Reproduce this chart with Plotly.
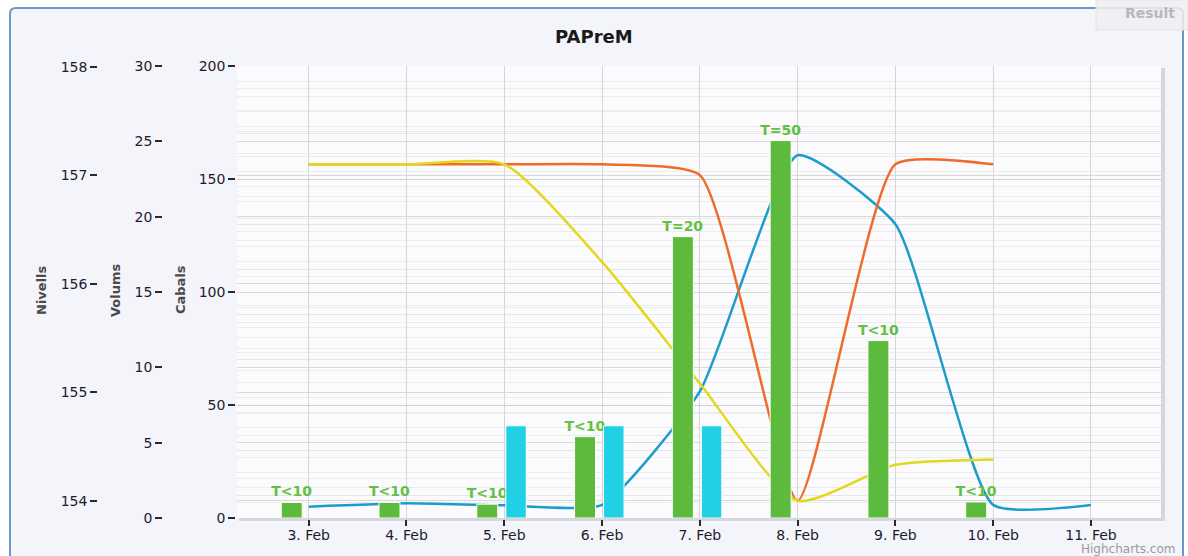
import plotly.graph_objects as go

# ---------------- data ----------------
days_all = ["2013-02-03", "2013-02-04", "2013-02-05", "2013-02-06", "2013-02-07",
            "2013-02-08", "2013-02-09", "2013-02-10", "2013-02-11"]
days_8 = days_all[:8]
days_cyan = ["2013-02-05", "2013-02-06", "2013-02-07"]

cabals_blue = [5.0, 6.5, 5.6, 5.8, 56, 160.5, 130, 5.8, 5.8]          # Cabals axis
nivell_orange = [157.1, 157.1, 157.1, 157.1, 157.0, 154.0, 157.1, 157.1]  # Nivells axis
nivell_yellow = [157.1, 157.1, 157.1, 156.2, 155.08, 154.0, 154.33, 154.38]  # Nivells axis
green_bars = [6.9, 6.9, 6.1, 36.0, 124.5, 167.0, 78.5, 7.1]            # Cabals axis
green_labels = ["T<10", "T<10", "T<10", "T<10", "T=20", "T=50", "T<10", "T<10"]
cyan_bars = [6.12, 6.12, 6.12]                                          # Volums axis

title_text = "PAPreM"
axis_titles = ["Nivells", "Volums", "Cabals"]

# ---------------- geometry helpers ----------------
W, H = 1188, 556
ML, MR, MT, MB = 40, 27, 66, 38
PW, PH = W - ML - MR, H - MT - MB
MS_PER_PX = 86400000 / 97.8


def px(x):
    return (x - ML) / PW


def py(y):
    return (H - MB - y) / PH


FONT = "DejaVu Sans"
green = "#5cbb3c"
cyan = "#21d0e5"
blue = "#1b9dcc"
orange = "#f06b2a"
yellow = "#e2d81c"

fig = go.Figure()

fig.add_trace(go.Scatter(x=days_8, y=nivell_orange, yaxis="y3", mode="lines",
                         line=dict(color=orange, width=2.5, shape="spline", smoothing=0.5),
                         zorder=-1, showlegend=False, hoverinfo="skip"))
fig.add_trace(go.Scatter(x=days_8, y=nivell_yellow, yaxis="y3", mode="lines",
                         line=dict(color=yellow, width=2.5, shape="spline", smoothing=0.6),
                         zorder=-1, showlegend=False, hoverinfo="skip"))
fig.add_trace(go.Scatter(x=days_all, y=cabals_blue, yaxis="y", mode="lines",
                         line=dict(color=blue, width=2.5, shape="spline", smoothing=0.5),
                         zorder=-1, showlegend=False, hoverinfo="skip"))

fig.add_trace(go.Bar(x=days_8, y=green_bars, yaxis="y", text=green_labels,
                     textposition="outside", cliponaxis=False, constraintext="none",
                     textfont=dict(family=FONT, size=14, color="#62c143", weight="bold"),
                     marker=dict(color=green, line=dict(color="white", width=1)),
                     offset=-27.5 * MS_PER_PX, width=21 * MS_PER_PX,
                     zorder=1, showlegend=False, hoverinfo="skip"))
fig.add_trace(go.Bar(x=days_cyan, y=cyan_bars, yaxis="y2",
                     marker=dict(color=cyan, line=dict(color="white", width=1)),
                     offset=1.5 * MS_PER_PX, width=20.5 * MS_PER_PX,
                     zorder=1, showlegend=False, hoverinfo="skip"))

tickfont = dict(family=FONT, size=14, color="#1c1c2c")
axline = dict(showline=True, linecolor="#2a2a2a", linewidth=1.5, ticks="outside",
              ticklen=7, tickcolor="#2a2a2a", tickwidth=1.5, zeroline=False,
              tickfont=tickfont)

fig.update_layout(
    width=W, height=H,
    margin=dict(l=ML, r=MR, t=MT, b=MB, pad=0),
    paper_bgcolor="white",
    plot_bgcolor="rgba(0,0,0,0)",
    barmode="overlay",
    showlegend=False,
    xaxis=dict(type="date", domain=[px(237), 1],
               range=["2013-02-02 06:24", "2013-02-11 17:11"],
               tick0="2013-02-03", dtick=86400000, tickformat="%-d. %b",
               showgrid=True, gridcolor="#d6d6d6", gridwidth=1,
               showline=True, linecolor="#2a2a2a", linewidth=1.5,
               ticks="outside", ticklen=6, tickcolor="#2a2a2a", tickwidth=1.5,
               ticklabelstandoff=-3,
               tickfont=tickfont, zeroline=False),
    yaxis=dict(range=[0, 200], dtick=50, anchor="x",
               showgrid=True, gridcolor="#cfcfcf",
               minor=dict(dtick=10, showgrid=True, gridcolor="#e6e6e6"),
               **axline),
    yaxis2=dict(range=[0, 30], dtick=5, overlaying="y", anchor="free",
                position=px(163), side="left",
                showgrid=True, gridcolor="#d9d9d9",
                minor=dict(dtick=1, showgrid=True, gridcolor="#ececec"),
                **axline),
    yaxis3=dict(range=[153.84, 158.006], dtick=1, tick0=154, overlaying="y",
                anchor="free", position=px(98), side="left",
                showgrid=True, gridcolor="#d9d9d9",
                minor=dict(dtick=0.2, tick0=154, showgrid=True, gridcolor="#ececec"),
                **axline),
)

# frame with rounded corners
x0, x1, y0, y1, r = px(10), px(1183), py(8), py(575), 6
rx, ry = r / PW, r / PH
frame_path = (f"M {x0+rx},{y0} L {x1-rx},{y0} Q {x1},{y0} {x1},{y0-ry} "
              f"L {x1},{y1} L {x0},{y1} L {x0},{y0-ry} Q {x0},{y0} {x0+rx},{y0} Z")
fig.add_shape(type="path", path=frame_path, xref="paper", yref="paper",
              fillcolor="#f4f4fb", line=dict(color="#6f97c6", width=2), layer="below")
# plot shadow
fig.add_shape(type="rect", xref="paper", yref="paper",
              x0=px(239), x1=px(1165), y0=py(521), y1=py(68),
              fillcolor="#d6d6dc", line=dict(width=0), layer="below")
# plot background
fig.add_shape(type="rect", xref="paper", yref="paper",
              x0=px(237), x1=1, y0=0, y1=1,
              fillcolor="#fbfbfd", line=dict(width=0), layer="below")

# title
fig.add_annotation(text=f"<b>{title_text}</b>", x=px(W / 2), xref="paper", yref="paper",
                   xanchor="center", yanchor="middle",
                   y=py(36), showarrow=False,
                   font=dict(family=FONT, size=18, color="#1a1a1a"))

# axis titles
for name, xc in zip(axis_titles, [41, 115, 180]):
    fig.add_annotation(text=f"<b>{name}</b>", x=px(xc), y=py(290), xref="paper", yref="paper",
                       textangle=-90, showarrow=False, xanchor="center", yanchor="middle",
                       font=dict(family=FONT, size=13, color="#4a4a4a"))

# credit
fig.add_annotation(text="Highcharts.com", x=px(1177), y=py(549), xref="paper", yref="paper",
                   xanchor="right", yanchor="middle", showarrow=False,
                   font=dict(family=FONT, size=12, color="#9a9a9a"))

# "Result" tab
fig.add_shape(type="rect", xref="paper", yref="paper", x0=px(1096), x1=px(1188),
              y0=py(0), y1=py(30), fillcolor="rgba(238,238,240,0.85)",
              line=dict(color="#e2e2e6", width=1), layer="above")
fig.add_annotation(text="<b>Result</b>", x=px(1150), y=py(13), xref="paper", yref="paper",
                   xanchor="center", yanchor="middle", showarrow=False,
                   font=dict(family=FONT, size=14, color="#b8b8bc"))

fig.write_html("out.html", config={"displayModeBar": False},
               post_script="document.body.style.margin='0';")
